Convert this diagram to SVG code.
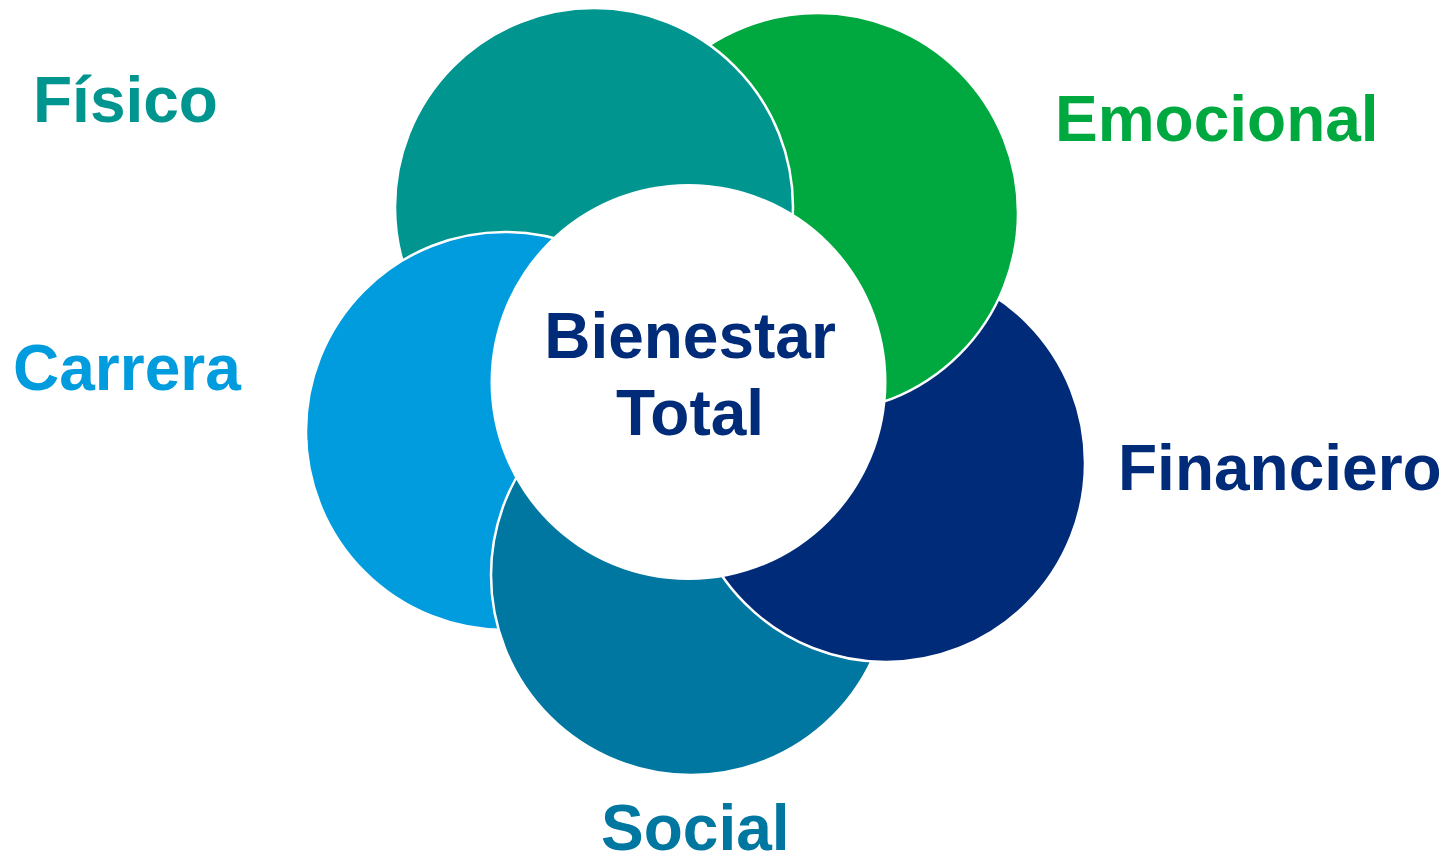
<svg xmlns="http://www.w3.org/2000/svg" width="1447" height="858" viewBox="0 0 1447 858">
<style>
.lbl{font-family:"Liberation Sans",Arial,sans-serif;font-weight:bold;font-size:64px}
.pet{stroke:#ffffff;stroke-width:2.5}
</style>
<defs>
<clipPath id="topClip"><rect x="0" y="0" width="1447" height="440"/></clipPath>
</defs>
<rect width="1447" height="858" fill="#ffffff"/>
<g id="carrera">
<circle class="pet" cx="505" cy="431" r="199" fill="#009CDE"/>
<text class="lbl" x="13" y="390" fill="#009CDE">Carrera</text>
</g>
<g id="social">
<circle class="pet" cx="691" cy="575" r="200" fill="#0077A0"/>
<text class="lbl" x="601" y="850" fill="#0077A0">Social</text>
</g>
<g id="financiero">
<circle class="pet" cx="886" cy="463" r="199" fill="#002B78"/>
<text class="lbl" x="1118" y="490" fill="#002B78">Financiero</text>
</g>
<g id="emocional">
<circle class="pet" cx="818" cy="213" r="200" fill="#00A940"/>
<text class="lbl" x="1055" y="141" fill="#00A940">Emocional</text>
</g>
<g id="fisico">
<circle class="pet" cx="594" cy="207" r="199" fill="#00968F"/>
<text class="lbl" x="33" y="122" fill="#00968F">Físico</text>
</g>
<g id="carrera-overlap">
<circle class="pet" cx="505" cy="431" r="199" fill="#009CDE" clip-path="url(#topClip)"/>
</g>
<g id="bienestar">
<circle cx="688.5" cy="382" r="198" fill="#ffffff"/>
<text class="lbl" x="690" y="358" text-anchor="middle" fill="#002B78">Bienestar</text>
<text class="lbl" x="690" y="435" text-anchor="middle" fill="#002B78">Total</text>
</g>
<g id="connectors"></g>
</svg>
